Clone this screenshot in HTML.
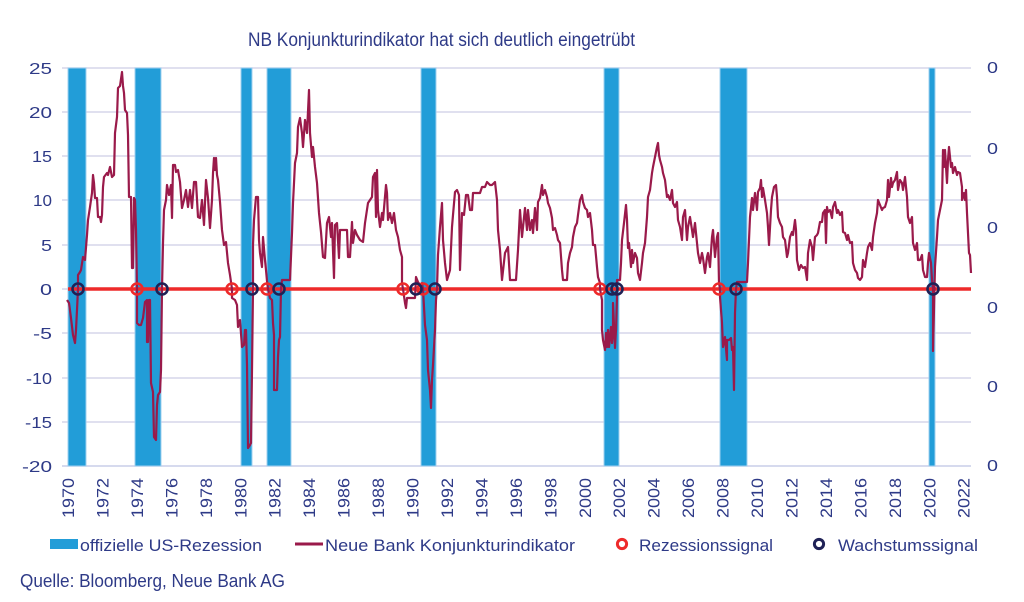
<!DOCTYPE html>
<html>
<head>
<meta charset="utf-8">
<style>
html,body{margin:0;padding:0;background:#fff;}
svg{display:block;}
text{font-family:"Liberation Sans",Arial,sans-serif;fill:#2e3a87;}
</style>
</head>
<body>
<svg width="1024" height="602" viewBox="0 0 1024 602" xmlns="http://www.w3.org/2000/svg">
<rect x="0" y="0" width="1024" height="602" fill="#fff"/>
<!-- title -->
<text x="248" y="46" font-size="19" textLength="387" lengthAdjust="spacingAndGlyphs">NB Konjunkturindikator hat sich deutlich eingetrübt</text>

<!-- gridlines -->
<g stroke="#d6d6ea" stroke-width="1.5">
<line x1="62" y1="68" x2="971" y2="68"/>
<line x1="62" y1="112" x2="971" y2="112"/>
<line x1="62" y1="156" x2="971" y2="156"/>
<line x1="62" y1="200" x2="971" y2="200"/>
<line x1="62" y1="245" x2="971" y2="245"/>
<line x1="62" y1="289" x2="971" y2="289"/>
<line x1="62" y1="333" x2="971" y2="333"/>
<line x1="62" y1="378" x2="971" y2="378"/>
<line x1="62" y1="422" x2="971" y2="422"/>
<line x1="62" y1="466" x2="971" y2="466" stroke="#c9cde8"/>
</g>

<!-- recession bands -->
<g fill="#229dd8" stroke="#9fd0ef" stroke-width="1">
<rect x="68" y="68" width="18" height="398"/>
<rect x="135" y="68" width="26" height="398"/>
<rect x="241" y="68" width="11" height="398"/>
<rect x="267" y="68" width="24" height="398"/>
<rect x="421" y="68" width="15" height="398"/>
<rect x="604" y="68" width="15" height="398"/>
<rect x="720" y="68" width="27" height="398"/>
<rect x="929" y="68" width="6" height="398"/>
</g>

<!-- zero line -->
<line x1="68" y1="289" x2="971" y2="289" stroke="#ee2a2a" stroke-width="3.5"/>

<!-- indicator line -->
<polyline fill="none" stroke="#9a1a4a" stroke-width="2.2" stroke-linejoin="round" points="
67,300 69,303 71,318 73,335 75,343 76,330 77,310 78,289 78,275 80,272 81,270 83,257 85,260 87,235 88,220 90,207 92,193 93,175 94,183 95,198 97,198 98,217 100,217 101,222 102,215 103,187 104,177 107,173 108,175 110,167 112,177 114,175 115,133 117,117 118,88 120,86 122,72 123,86 124,93 125,110 127,113 128,135 129,197 131,197 132,268 133,268 134,198 135,200 136,230 137,289
137,323 139,325 141,325 143,318 145,302 147,300 147,342 148,342 149,300 150,300 151,383 153,392 154,437 156,440 157,405 158,395 160,392 161,370 162,289
163,243 164,210 166,200 167,185 169,195 171,185 172,218 173,165 175,165 176,172 178,170 180,182 182,208 184,200 186,190 188,207 190,190 192,208 194,182 196,182 198,217 200,218 202,200 204,225 206,180 208,198 210,228 212,200 213,173 214,158 215,170 216,158 217,175 218,180 220,202 222,230 224,245 226,242 228,263 230,275 232,289
232,298 235,300 237,305 238,327 240,320 242,347 244,345 245,330 246,330 247,365 248,448 250,445 251,443 252,370 253,289
253,245 254,220 256,197 258,197 259,240 260,253 262,267 263,237 265,260 266,270 267,281 268,289
270,298 272,300 273,323 274,335 274,390 277,390 278,357 279,340 280,337 281,289 282,280 290,280
292,233 293,203 295,163 297,153 298,127 300,118 302,133 303,147 305,120 307,133 309,90 310,133 312,157 313,147 315,167 317,183 319,213 321,232 323,257 325,258 327,223 329,217 331,237 332,223 334,278 335,225 337,223 339,258 340,230 347,230 348,257 350,257 352,222 353,243 355,230 357,235 360,240 363,242 365,223 368,203 372,197 373,177 375,173 376,217 377,170 378,210 380,227 382,213 383,220 386,185 387,193 388,220 390,213 392,223 394,213 396,230 398,237 400,250 402,257 402,283 403,289
405,303 406,308 407,298 415,298 416,277 418,282 420,285 422,283 423,289 425,325 427,340 428,370 430,390 431,408 432,380 433,365 435,330 436,300 437,289
438,255 440,227 442,203 443,240 445,263 447,280 450,270 452,227 453,215 455,192 457,190 459,195 460,270 462,213 464,215 466,195 468,195 470,210 472,210 473,193 480,193 482,187 485,187 487,182 490,185 492,185 495,182 497,200 498,230 500,250 502,280 505,253 508,247 510,280 516,280 518,250 520,210 522,237 525,208 527,230 528,210 530,230 532,220 533,233 535,208 537,230 538,202 540,198 542,185 543,195 545,190 547,197 548,203 550,208 552,218 553,230 555,228 557,235 558,240 560,243 562,270 563,280 567,280 568,263 570,253 572,247 573,237 575,227 577,223 578,215 580,200 582,195 583,202 585,208 587,210 588,217 590,213 592,230 593,245 595,245 597,267 598,277 600,283 600,289
602,300 602,330 603,340 605,350 606,333 607,347 608,330 609,347 611,327 612,343 613,330 613,303 615,348 616,330 617,297 617,280 620,280
621,263 622,240 624,223 626,205 627,220 628,248 629,243 631,267 632,250 633,263 635,253 637,258 638,273 640,280 642,263 643,253 645,243 647,217 648,197 650,190 652,173 653,167 655,157 657,147 658,143 659,155 660,160 662,167 663,173 665,180 667,197 668,195 670,200 672,190 673,203 675,207 677,202 678,220 680,227 682,240 683,217 685,210 687,240 688,227 690,217 692,230 693,237 695,223 697,243 698,253 700,263 702,253 703,258 705,273 707,257 708,253 710,267 712,237 713,230 715,257 717,237 718,233 719,283 720,289
720,297 722,323 723,347 725,337 727,360 727,340 729,340 731,338 732,350 733,347 734,390 735,313 736,289 737,282 747,282
748,263 750,217 752,198 753,210 755,193 757,210 758,192 760,188 761,180 762,197 763,188 765,200 767,213 768,227 769,245 771,210 772,197 774,187 776,185 777,197 778,217 780,223 782,227 783,237 785,240 787,257 788,253 790,237 792,232 793,235 795,220 796,230 797,260 799,270 801,265 803,268 805,267 807,280 808,253 810,240 812,247 813,260 815,237 817,235 818,233 820,222 822,222 823,213 825,210 826,243 827,207 828,212 830,210 832,218 833,207 835,202 837,213 838,210 840,215 842,212 843,232 845,233 847,240 848,235 850,243 852,242 853,263 855,270 857,273 858,278 860,280 862,277 863,260 865,267 867,253 868,247 870,243 872,250 873,237 875,223 877,213 878,200 880,205 882,210 883,208 885,207 887,200 888,180 889,197 891,178 892,187 893,183 895,180 897,172 898,190 900,180 902,183 903,190 905,177 907,197 908,217 910,223 912,217 913,243 915,250 917,243 918,260 920,260 922,255 923,270 925,277 927,277 928,263 929,253 931,263 932,280 933,289 933,351 935,267 937,237 938,220 940,210 942,200 943,150 944,167 945,150 947,183 948,160 949,147 951,167 952,163 953,173 955,167 957,175 958,172 960,173 962,187 962,200 964,193 965,200 966,190 967,213 969,253 970,255 971,273"/>

<!-- markers -->
<g fill="none" stroke-width="2.6">
<g stroke="#ee2a2a">
<circle cx="137" cy="289" r="5.5"/>
<circle cx="232" cy="289" r="5.5"/>
<circle cx="267" cy="289" r="5.5"/>
<circle cx="403" cy="289" r="5.5"/>
<circle cx="423" cy="289" r="5.5"/>
<circle cx="600" cy="289" r="5.5"/>
<circle cx="719" cy="289" r="5.5"/>
</g>
<g stroke="#1f2156">
<circle cx="78" cy="289" r="5.5"/>
<circle cx="162" cy="289" r="5.5"/>
<circle cx="252" cy="289" r="5.5"/>
<circle cx="279" cy="289" r="5.5"/>
<circle cx="416" cy="289" r="5.5"/>
<circle cx="435" cy="289" r="5.5"/>
<circle cx="612" cy="289" r="5.5"/>
<circle cx="617" cy="289" r="5.5"/>
<circle cx="736" cy="289" r="5.5"/>
<circle cx="933" cy="289" r="5.5"/>
</g>
</g>

<!-- left y labels -->
<g font-size="16" text-anchor="end">
<text x="52" y="74" textLength="23" lengthAdjust="spacingAndGlyphs">25</text>
<text x="52" y="118" textLength="23" lengthAdjust="spacingAndGlyphs">20</text>
<text x="52" y="162" textLength="20" lengthAdjust="spacingAndGlyphs">15</text>
<text x="52" y="206" textLength="19" lengthAdjust="spacingAndGlyphs">10</text>
<text x="52" y="251" textLength="11" lengthAdjust="spacingAndGlyphs">5</text>
<text x="52" y="295" textLength="12" lengthAdjust="spacingAndGlyphs">0</text>
<text x="52" y="339" textLength="19" lengthAdjust="spacingAndGlyphs">-5</text>
<text x="52" y="384" textLength="26" lengthAdjust="spacingAndGlyphs">-10</text>
<text x="52" y="428" textLength="27" lengthAdjust="spacingAndGlyphs">-15</text>
<text x="52" y="472" textLength="30" lengthAdjust="spacingAndGlyphs">-20</text>
</g>

<!-- right y labels -->
<g font-size="16">
<text x="987" y="73" textLength="11" lengthAdjust="spacingAndGlyphs">0</text>
<text x="987" y="154" textLength="11" lengthAdjust="spacingAndGlyphs">0</text>
<text x="987" y="233" textLength="11" lengthAdjust="spacingAndGlyphs">0</text>
<text x="987" y="313" textLength="11" lengthAdjust="spacingAndGlyphs">0</text>
<text x="987" y="392" textLength="11" lengthAdjust="spacingAndGlyphs">0</text>
<text x="987" y="471" textLength="11" lengthAdjust="spacingAndGlyphs">0</text>
</g>

<!-- x labels -->
<g font-size="17">
<text transform="translate(74,518) rotate(-90)" textLength="40" lengthAdjust="spacingAndGlyphs">1970</text>
<text transform="translate(108.5,518) rotate(-90)" textLength="40" lengthAdjust="spacingAndGlyphs">1972</text>
<text transform="translate(143,518) rotate(-90)" textLength="40" lengthAdjust="spacingAndGlyphs">1974</text>
<text transform="translate(177.4,518) rotate(-90)" textLength="40" lengthAdjust="spacingAndGlyphs">1976</text>
<text transform="translate(211.8,518) rotate(-90)" textLength="40" lengthAdjust="spacingAndGlyphs">1978</text>
<text transform="translate(246.3,518) rotate(-90)" textLength="40" lengthAdjust="spacingAndGlyphs">1980</text>
<text transform="translate(280.7,518) rotate(-90)" textLength="40" lengthAdjust="spacingAndGlyphs">1982</text>
<text transform="translate(315.2,518) rotate(-90)" textLength="40" lengthAdjust="spacingAndGlyphs">1984</text>
<text transform="translate(349.6,518) rotate(-90)" textLength="40" lengthAdjust="spacingAndGlyphs">1986</text>
<text transform="translate(384.1,518) rotate(-90)" textLength="40" lengthAdjust="spacingAndGlyphs">1988</text>
<text transform="translate(418.5,518) rotate(-90)" textLength="40" lengthAdjust="spacingAndGlyphs">1990</text>
<text transform="translate(453,518) rotate(-90)" textLength="40" lengthAdjust="spacingAndGlyphs">1992</text>
<text transform="translate(487.4,518) rotate(-90)" textLength="40" lengthAdjust="spacingAndGlyphs">1994</text>
<text transform="translate(521.9,518) rotate(-90)" textLength="40" lengthAdjust="spacingAndGlyphs">1996</text>
<text transform="translate(556.3,518) rotate(-90)" textLength="40" lengthAdjust="spacingAndGlyphs">1998</text>
<text transform="translate(590.8,518) rotate(-90)" textLength="40" lengthAdjust="spacingAndGlyphs">2000</text>
<text transform="translate(625.2,518) rotate(-90)" textLength="40" lengthAdjust="spacingAndGlyphs">2002</text>
<text transform="translate(659.7,518) rotate(-90)" textLength="40" lengthAdjust="spacingAndGlyphs">2004</text>
<text transform="translate(694.1,518) rotate(-90)" textLength="40" lengthAdjust="spacingAndGlyphs">2006</text>
<text transform="translate(728.6,518) rotate(-90)" textLength="40" lengthAdjust="spacingAndGlyphs">2008</text>
<text transform="translate(763,518) rotate(-90)" textLength="40" lengthAdjust="spacingAndGlyphs">2010</text>
<text transform="translate(797.5,518) rotate(-90)" textLength="40" lengthAdjust="spacingAndGlyphs">2012</text>
<text transform="translate(831.9,518) rotate(-90)" textLength="40" lengthAdjust="spacingAndGlyphs">2014</text>
<text transform="translate(866.4,518) rotate(-90)" textLength="40" lengthAdjust="spacingAndGlyphs">2016</text>
<text transform="translate(900.8,518) rotate(-90)" textLength="40" lengthAdjust="spacingAndGlyphs">2018</text>
<text transform="translate(935.3,518) rotate(-90)" textLength="40" lengthAdjust="spacingAndGlyphs">2020</text>
<text transform="translate(969.7,518) rotate(-90)" textLength="40" lengthAdjust="spacingAndGlyphs">2022</text>
</g>

<!-- legend -->
<rect x="50" y="539" width="28" height="10" fill="#229dd8"/>
<text x="80" y="551" font-size="17" textLength="182" lengthAdjust="spacingAndGlyphs">offizielle US-Rezession</text>
<line x1="295" y1="544" x2="323" y2="544" stroke="#9a1a4a" stroke-width="3"/>
<text x="325" y="551" font-size="17" textLength="250" lengthAdjust="spacingAndGlyphs">Neue Bank Konjunkturindikator</text>
<circle cx="622" cy="544" r="4.6" fill="none" stroke="#ee2a2a" stroke-width="3"/>
<text x="639" y="551" font-size="17" textLength="134" lengthAdjust="spacingAndGlyphs">Rezessionssignal</text>
<circle cx="819" cy="544" r="4.6" fill="none" stroke="#1f2156" stroke-width="3"/>
<text x="838" y="551" font-size="17" textLength="140" lengthAdjust="spacingAndGlyphs">Wachstumssignal</text>

<!-- source -->
<text x="20" y="587" font-size="18" textLength="265" lengthAdjust="spacingAndGlyphs">Quelle: Bloomberg, Neue Bank AG</text>
</svg>
</body>
</html>
